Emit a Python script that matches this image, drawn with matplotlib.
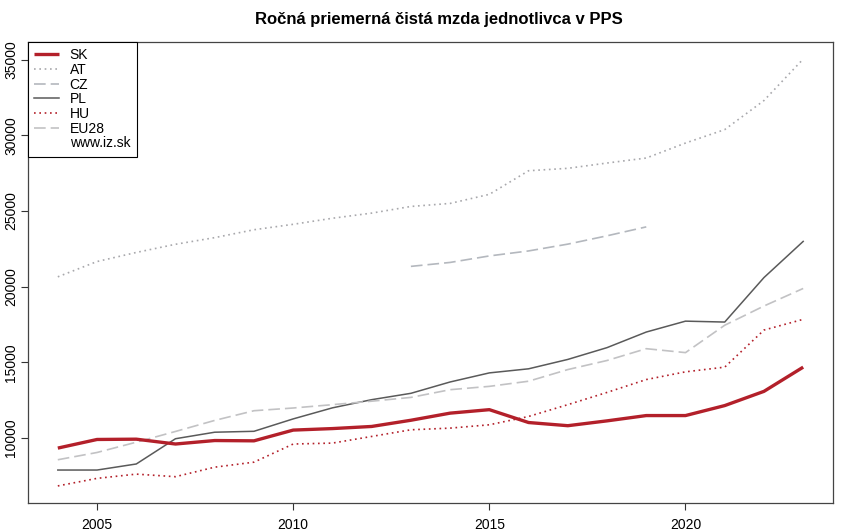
#!/usr/bin/env python3
"""Ročná priemerná čistá mzda jednotlivca v PPS – SK vs. susedia a EU28."""
import numpy as np
import matplotlib
matplotlib.use("Agg")
import matplotlib.pyplot as plt

plt.rcParams["font.family"] = ["Liberation Sans", "DejaVu Sans"]

years = list(range(2004, 2024))

sk = [9330, 9900, 9920, 9600, 9830, 9810, 10520, 10620, 10760, 11170,
      11640, 11870, 11020, 10810, 11130, 11480, 11480, 12140, 13080, 14680]
at = [20650, 21660, 22260, 22800, 23240, 23760, 24120, 24520, 24860, 25300,
      25500, 26100, 27660, 27820, 28170, 28500, 29490, 30380, 32300, 35040]
cz_years = list(range(2013, 2020))
cz = [21340, 21600, 22030, 22360, 22810, 23360, 23950]
pl = [7880, 7880, 8280, 9950, 10380, 10440, 11260, 11990, 12530, 12950,
      13700, 14300, 14570, 15190, 15970, 17000, 17720, 17660, 20600, 22990]
hu = [6830, 7330, 7610, 7440, 8070, 8400, 9600, 9660, 10100, 10540,
      10650, 10870, 11420, 12200, 13010, 13860, 14370, 14680, 17130, 17840]
eu28 = [8560, 9040, 9720, 10430, 11160, 11800, 11980, 12200, 12430, 12680,
        13190, 13410, 13750, 14520, 15120, 15900, 15640, 17450, 18720, 19880]

RED = "#B3202A"

fig = plt.figure(figsize=(8.5, 5.32), dpi=100)
ax = fig.add_axes([28 / 850, 1 - 503 / 532, 805 / 850, 461 / 532])

ax.plot(years, sk, color=RED, lw=2.4, solid_capstyle="butt", label="SK", zorder=6)
ax.plot(years, at, color="#A8A8AC", lw=1.2, ls=(0, (1, 2.2)), label="AT")
ax.plot(cz_years, cz, color="#B4B8BE", lw=1.2, ls=(0, (7, 3)), label="CZ")
ax.plot(years, pl, color="#5A5A5A", lw=1.1, label="PL")
ax.plot(years, hu, color=RED, lw=1.2, ls=(0, (1, 2.2)), label="HU")
ax.plot(years, eu28, color="#C2C2C4", lw=1.2, ls=(0, (7, 3)), label="EU28")
ax.plot([], [], color="none", label="www.iz.sk")

# R-style 4 % padding around the data range
allv = sk + at + cz + pl + hu + eu28
lo, hi = min(allv), max(allv)
pad = 0.04 * (hi - lo)
ax.set_ylim(lo - pad, hi + pad)
xpad = 0.04 * (years[-1] - years[0])
ax.set_xlim(years[0] - xpad, years[-1] + xpad)

ax.set_xticks([2005, 2010, 2015, 2020])
ax.set_yticks([10000, 15000, 20000, 25000, 30000, 35000])
ax.tick_params(axis="both", direction="out", length=5, width=0.8,
               color="#333333", labelsize=10)
ax.tick_params(axis="x", pad=6)
ax.tick_params(axis="y", pad=2)
for lab in ax.get_yticklabels():
    lab.set_rotation(90)
    lab.set_va("center")
for s in ax.spines.values():
    s.set_color("#444444")
    s.set_linewidth(0.9)

ax.set_title("Ročná priemerná čistá mzda jednotlivca v PPS",
             fontsize=12, fontweight="bold", pad=13, x=0.51)

leg = ax.legend(loc="upper left", fontsize=10, frameon=True, fancybox=False,
                edgecolor="black", framealpha=1, borderaxespad=0,
                handlelength=1.8, handletextpad=0.75, labelspacing=0.05,
                borderpad=0.45)
leg.get_frame().set_linewidth(0.8)

fig.savefig("out.png", dpi=100)
